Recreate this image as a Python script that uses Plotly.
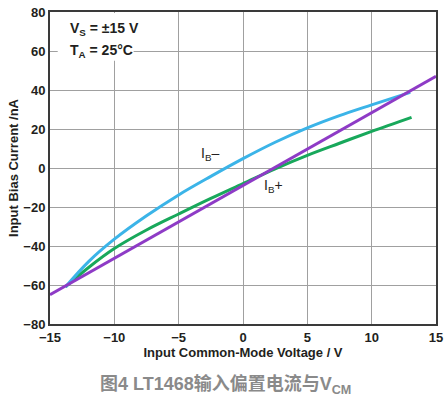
import plotly.graph_objects as go

# Data
x_ib_minus = [-13.8, -12, -10, -7.5, -5, -2.5, 0, 2.5, 5, 7.5, 10, 13]
y_ib_minus = [-61, -48, -36.5, -24.5, -13.8, -4.3, 4.8, 13.2, 20.6, 26.9, 32.4, 38.8]

x_ib_plus = [-13.8, -12, -10, -7.5, -5, -2.5, 0, 2.5, 5, 7.5, 10, 13.1]
y_ib_plus = [-61, -51, -41.3, -31.8, -23.6, -15.6, -8, -0.4, 6.5, 12.7, 18.8, 26]

x_line = [-15, 15]
y_line = [-65, 47]

x_ticks = [-15, -10, -5, 0, 5, 10, 15]
x_tick_text = ["\u221215", "\u221210", "\u22125", "0", "5", "10", "15"]
y_ticks = [-80, -60, -40, -20, 0, 20, 40, 60, 80]
y_tick_text = ["\u221280", "\u221260", "\u221240", "\u221220", "0", "20", "40", "60", "80"]

BLUE = "#3BB4E8"
GREEN = "#18A85B"
PURPLE = "#8E3BC6"

fig = go.Figure()
fig.add_trace(go.Scatter(x=x_ib_plus, y=y_ib_plus, mode="lines",
                         line=dict(color=GREEN, width=3, shape="spline", smoothing=1), showlegend=False))
fig.add_trace(go.Scatter(x=x_ib_minus, y=y_ib_minus, mode="lines",
                         line=dict(color=BLUE, width=3, shape="spline", smoothing=1), showlegend=False))
fig.add_trace(go.Scatter(x=x_line, y=y_line, mode="lines", line=dict(color=PURPLE, width=3), showlegend=False))

font_main = "Liberation Sans, Arial, sans-serif"
tickfont = dict(size=13, family=font_main, weight="bold", color="#231F20")

fig.update_layout(
    width=447, height=396,
    margin=dict(l=50, r=11, t=12, b=72),
    paper_bgcolor="white", plot_bgcolor="white",
    font=dict(family=font_main, color="#231F20", size=13),
    xaxis=dict(range=[-15, 15], tickvals=x_ticks, ticktext=x_tick_text, automargin=False,
               ticklabeloverflow="allow",
               showgrid=True, gridcolor="#A0A0A0", gridwidth=1,
               showline=True, linecolor="#3A3A3A", linewidth=2, mirror=True,
               zeroline=False, ticks="", tickfont=tickfont,
               title=dict(text="Input Common-Mode Voltage / V",
                          font=dict(size=13, weight="bold"), standoff=2)),
    yaxis=dict(range=[-80, 80], tickvals=y_ticks, ticktext=y_tick_text, automargin=False,
               showgrid=True, gridcolor="#A0A0A0", gridwidth=1,
               showline=True, linecolor="#3A3A3A", linewidth=2, mirror=True,
               zeroline=False, ticks="", tickfont=tickfont,
               title=dict(text="Input Bias Current /nA",
                          font=dict(size=13, weight="bold"), standoff=2)),
)

# white box behind the condition text
fig.add_shape(type="rect", xref="x", yref="y", x0=-14.4, x1=-8.5, y0=55, y1=79.5,
              fillcolor="white", line=dict(width=0), layer="above")

fig.add_annotation(x=-13.6, y=71.4, xref="x", yref="y", xanchor="left", yanchor="middle",
                   text="V<sub>S</sub> = ±15 V", showarrow=False,
                   font=dict(size=14, weight="bold"))
fig.add_annotation(x=-13.6, y=60.2, xref="x", yref="y", xanchor="left", yanchor="middle",
                   text="T<sub>A</sub> = 25°C", showarrow=False,
                   font=dict(size=14, weight="bold"))
fig.add_annotation(x=-2.6, y=7.3, xref="x", yref="y", text="I<sub>B</sub>–", showarrow=False,
                   font=dict(size=14))
fig.add_annotation(x=2.4, y=-9, xref="x", yref="y", text="I<sub>B</sub>+", showarrow=False,
                   font=dict(size=14))
fig.add_annotation(x=0.5, y=0, xref="paper", yref="paper", yshift=-61, xshift=-18,
                   yanchor="middle",
                   text="图4 LT1468输入偏置电流与V<sub>CM</sub>", showarrow=False,
                   font=dict(size=18, color="#8A8A8A", weight="bold",
                             family="Liberation Sans, Noto Sans CJK SC, sans-serif"))

fig.write_html("out.html", config={"displayModeBar": False},
               post_script="document.body.style.margin='0';")
